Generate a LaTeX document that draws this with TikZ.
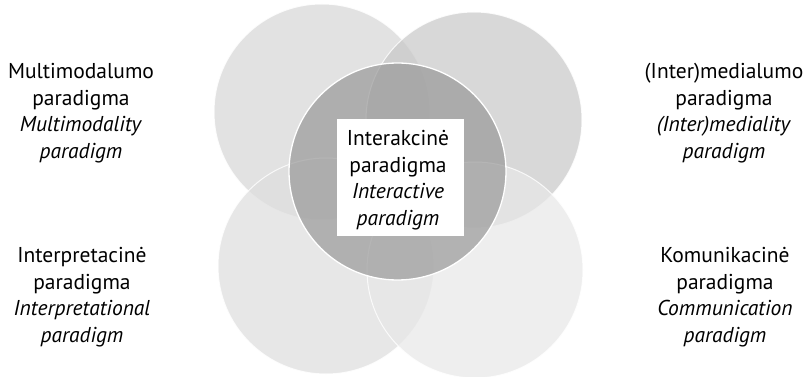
\documentclass[tikz,border=0pt]{standalone}
\usepackage{fontspec}
\setmainfont{PT Sans}
\definecolor{ctl}{gray}{0.843}
\definecolor{ctr}{gray}{0.786}
\definecolor{cbl}{gray}{0.871}
\definecolor{cbr}{gray}{0.91}
\definecolor{ccc}{gray}{0.60}
\begin{document}
\begin{tikzpicture}[x=1pt,y=-1pt,
  ring/.style={draw=white, line width=1pt, fill opacity=0.7, draw opacity=0.8},
  label/.style={align=center, inner sep=0pt, font=\fontsize{21.5}{26.5}\selectfont}]
\useasboundingbox[fill=white] (0,0) rectangle (809,377);
% outer circles
\path[ring, fill=ctl] (322,112) circle (108) coordinate (tl);
\path[ring, fill=ctr] (474,120) circle (108) coordinate (tr);
\path[ring, fill=cbl] (326,266) circle (108) coordinate (bl);
\path[ring, fill=cbr] (475,270) circle (108) coordinate (br);
% central circle
\path[ring, fill=ccc, line width=1.3pt, draw opacity=1] (397.5,171.5) circle (108.5) coordinate (cc);
% central box
\node[fill=white, minimum width=127pt, minimum height=117pt, inner sep=0pt] (box) at (400.5,177.5) {};
\node[label] (ctext) at (398,180) {Interakcinė\\paradigma\\\textit{Interactive}\\\textit{paradigm}};
% side labels
\node[label] (lt) at (81,113) {Multimodalumo\\paradigma\\\textit{Multimodality}\\\textit{paradigm}};
\node[label] (rt) at (724,113) {(Inter)medialumo\\paradigma\\\textit{(Inter)mediality}\\\textit{paradigm}};
\node[label] (lb) at (82,297) {Interpretacinė\\paradigma\\\textit{Interpretational}\\\textit{paradigm}};
\node[label] (rb) at (725,297) {Komunikacinė\\paradigma\\\textit{Communication}\\\textit{paradigm}};
\end{tikzpicture}
\end{document}
